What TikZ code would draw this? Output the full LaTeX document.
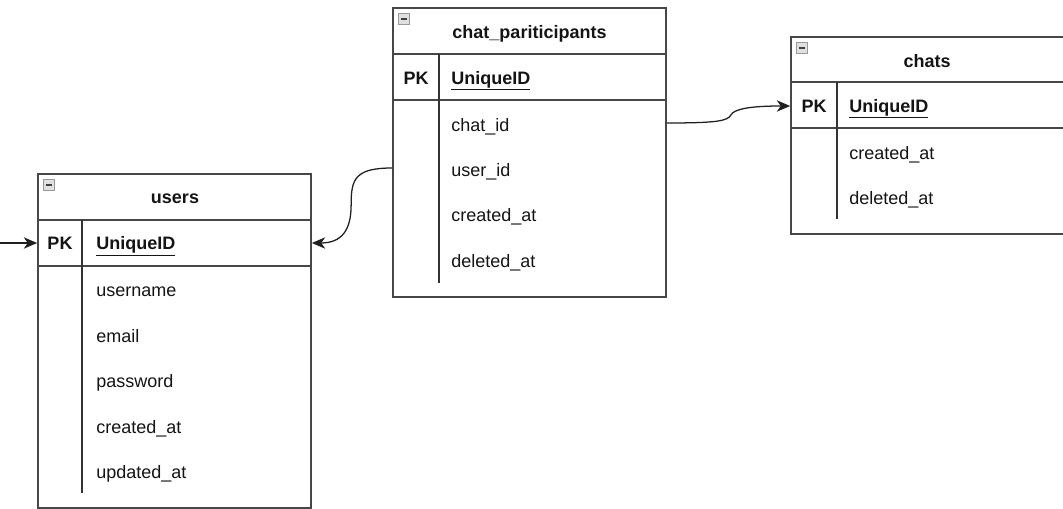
\documentclass[tikz,border=0pt]{standalone}
\usepackage{fontspec}
\setmainfont{Liberation Sans}
\usetikzlibrary{fit,arrows.meta}
\begin{document}
\begin{tikzpicture}[x=0.75pt,y=-0.75pt,
  tbl/.style={draw=black!72,line width=1.3pt,inner sep=0pt,rectangle},
  sep/.style={draw=black!72,line width=1.2pt},
  kdiv/.style={draw=black!80,line width=1.1pt},
  fld/.style={font=\fontsize{13.5}{16}\selectfont,inner sep=0pt,anchor=mid west,text=black!92},
  pk/.style={font=\fontsize{13.5}{16}\selectfont\bfseries,inner sep=0pt,anchor=mid,text=black!92},
  ttl/.style={font=\fontsize{13.5}{16}\selectfont\bfseries,inner sep=0pt,anchor=mid,text=black!92},
  uid/.style={font=\fontsize{13.5}{16}\selectfont\bfseries,inner sep=0pt,anchor=mid west,text=black!92},
  icon/.style={draw=black!40,fill=black!12,line width=0.5pt,minimum size=8pt,inner sep=0pt,
    path picture={\draw[black!75,line width=1.3pt]([xshift=-2.6pt]path picture bounding box.center)--([xshift=2.6pt]path picture bounding box.center);}},
  conn/.style={draw=black!88,line width=0.95pt,-{Stealth[length=10pt,width=8.5pt,inset=3pt]}}
]
\useasboundingbox (0,0) rectangle (1063,509);

% ---------- users ----------
\node[tbl,fit={(38,174) (311,508)}] (users) {};
\draw[sep] (38,220) -- (311,220);
\draw[sep] (38,266) -- (311,266);
\draw[kdiv] (82,220) -- (82,493);
\node[icon] (uicon) at (49,185) {};
\node[ttl] (utitle) at (175,200) {users};
\node[pk] (upk) at (60,246) {PK};
\node[uid] (uuid) at (96,246) {\underline{UniqueID}};
\node[fld] (uusername) at (96,292.5) {username};
\node[fld] (uemail) at (96,338.5) {email};
\node[fld] (upassword) at (96,383.5) {password};
\node[fld] (ucreated) at (96,429.5) {created\_at};
\node[fld] (uupdated) at (96,474.5) {updated\_at};

% ---------- chat_pariticipants ----------
\node[tbl,fit={(393,8) (666,297)}] (cp) {};
\draw[sep] (393,54) -- (666,54);
\draw[sep] (393,100) -- (666,100);
\draw[kdiv] (439,54) -- (439,283);
\node[icon] (cpicon) at (404,19) {};
\node[ttl] (cptitle) at (529.5,34.5) {chat\_pariticipants};
\node[pk] (cppk) at (416,80.5) {PK};
\node[uid] (cpuid) at (451,80.5) {\underline{UniqueID}};
\node[fld] (cpchat) at (451,127.5) {chat\_id};
\node[fld] (cpuser) at (451,172.5) {user\_id};
\node[fld] (cpcreated) at (451,217.5) {created\_at};
\node[fld] (cpdeleted) at (451,263.5) {deleted\_at};

% ---------- chats ----------
\node[tbl,fit={(791,37) (1064,234)}] (chats) {};
\draw[sep] (791,82) -- (1063,82);
\draw[sep] (791,128) -- (1063,128);
\draw[kdiv] (837,82) -- (837,219);
\node[icon] (chicon) at (802,48) {};
\node[ttl] (chtitle) at (927,63.5) {chats};
\node[pk] (chpk) at (814,108.5) {PK};
\node[uid] (chuid) at (849,108.5) {\underline{UniqueID}};
\node[fld] (chcreated) at (849,155.5) {created\_at};
\node[fld] (chdeleted) at (849,200.5) {deleted\_at};

% ---------- connectors ----------
\coordinate (inleft) at (0,243);
\draw[conn] (inleft) -- (users.west |- 0,243);
\draw[conn] (cp.west |- 0,168) .. controls +(-38,0) and +(0,-25) .. ++(-41,37)
  .. controls +(0,25) and +(30,0) .. (users.east |- 0,243);
\draw[conn] (cp.east |- 0,123) .. controls +(50,0) and +(-3,6) .. ++(64,-8)
  .. controls +(3,-6) and +(-40,0) .. (chats.west |- 0,106);
\end{tikzpicture}
\end{document}
